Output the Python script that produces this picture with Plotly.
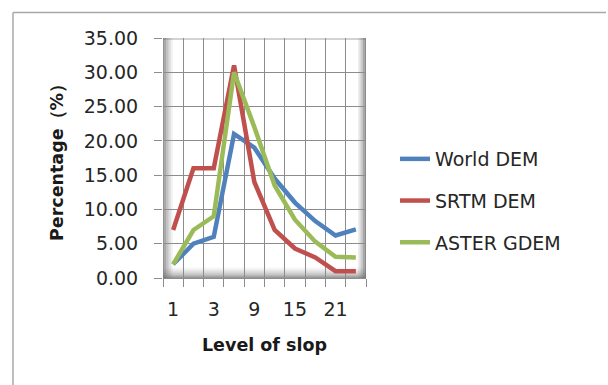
import plotly.graph_objects as go

# ---- data ----
levels = ["1", "2", "3", "6", "9", "12", "15", "18", "21", "25"]
tick_labels = ["1", "", "3", "", "9", "", "15", "", "21", ""]
world_dem = [2, 5, 6, 21, 19, 14.5, 11, 8.3, 6.2, 7.1]
srtm_dem = [7, 16, 16, 31, 14, 7, 4.3, 3, 1, 1]
aster_gdem = [2, 7, 9, 30, 22, 13.5, 8.5, 5.3, 3.1, 3]
series_names = ["World DEM", "SRTM DEM", "ASTER GDEM"]
series_colors = ["#4F81BD", "#C0504D", "#9BBB59"]

W, H = 608, 385
ML, MR, MT, MB = 163, 242, 38, 107
PW, PH = W - ML - MR, H - MT - MB

def px(x):
    return (x - ML) / PW

def py(y):
    return (H - MB - y) / PH

FONT = "DejaVu Sans"

fig = go.Figure()
for i, (name, vals) in enumerate(zip(series_names, [world_dem, srtm_dem, aster_gdem])):
    fig.add_trace(go.Scatter(
        x=levels, y=vals, mode="lines", name=name,
        line=dict(color=series_colors[i], width=4.5),
        legendgroup=name,
    ))

shapes = []
# chart outer border (top and left)
shapes.append(dict(type="line", xref="paper", yref="paper",
                   x0=px(13), x1=px(606), y0=py(12.5), y1=py(12.5),
                   line=dict(color="#a8a8a8", width=1.5)))
shapes.append(dict(type="line", xref="paper", yref="paper",
                   x0=px(13), x1=px(13), y0=py(12.5), y1=py(390),
                   line=dict(color="#a8a8a8", width=1.5)))
# 3D wall shading (left wall)
for k, op in enumerate([0.75, 0.6, 0.45, 0.32, 0.2, 0.1]):
    shapes.append(dict(type="rect", xref="paper", yref="paper", layer="below",
                       x0=px(163 + k * 1.6), x1=px(163 + (k + 1) * 1.6), y0=0, y1=1,
                       fillcolor=f"rgba(110,110,110,{op})", line=dict(width=0)))
# floor shading
for k, op in enumerate([0.7, 0.5, 0.35, 0.22, 0.12, 0.05]):
    shapes.append(dict(type="rect", xref="paper", yref="paper", layer="below",
                       x0=0, x1=1, y0=py(278 - k * 1.8), y1=py(278 - (k + 1) * 1.8),
                       fillcolor=f"rgba(110,110,110,{op})", line=dict(width=0)))
# right edge shading
for k, op in enumerate([0.8, 0.6, 0.4, 0.25, 0.12]):
    shapes.append(dict(type="rect", xref="paper", yref="paper", layer="below",
                       x0=px(366 - (k + 1) * 1.6), x1=px(366 - k * 1.6), y0=0, y1=1,
                       fillcolor=f"rgba(110,110,110,{op})", line=dict(width=0)))
# top edge
shapes.append(dict(type="rect", xref="paper", yref="paper", layer="below",
                   x0=0, x1=1, y0=py(40), y1=1,
                   fillcolor="rgba(110,110,110,0.3)", line=dict(width=0)))

fig.update_layout(
    width=W, height=H,
    margin=dict(l=ML, r=MR, t=MT, b=MB, autoexpand=False),
    paper_bgcolor="white", plot_bgcolor="rgba(0,0,0,0)",
    font=dict(family=FONT, size=19, color="#262626"),
    showlegend=True,
    legend=dict(xref="container", yref="container", x=395 / W, y=1 - 140 / H,
                xanchor="left", yanchor="top", tracegroupgap=14,
                font=dict(family=FONT, size=19, color="#262626"),
                bgcolor="rgba(0,0,0,0)"),
    shapes=shapes,
)

fig.update_xaxes(
    type="category", tickmode="array", tickvals=levels, ticktext=tick_labels,
    tickson="boundaries", tickangle=0,
    showgrid=True, gridcolor="#8c8c8c", gridwidth=1.3,
    ticks="outside", ticklen=8, tickcolor="#8c8c8c", tickwidth=1.3,
    showline=True, linecolor="#8c8c8c", linewidth=1.3,
    ticklabelstandoff=14,
    tickfont=dict(family=FONT, size=19, color="#262626"),
    title=dict(text="<b>Level of slop</b>", standoff=19,
               font=dict(family=FONT, size=17.5, color="#1a1a1a")),
    range=[-0.5, 9.5],
)
fig.update_yaxes(
    range=[0, 35], dtick=5, tickformat=".2f",
    showgrid=True, gridcolor="#8c8c8c", gridwidth=1.3,
    ticks="outside", ticklen=8, tickcolor="#8c8c8c", tickwidth=1.3,
    showline=False, zeroline=False,
    ticklabelstandoff=12,
    tickfont=dict(family=FONT, size=19, color="#262626"),
    title=dict(text="<b>Percentage（%）</b>", standoff=15,
               font=dict(family=FONT, size=17.5, color="#1a1a1a")),
)

fig.write_html("out.html")
